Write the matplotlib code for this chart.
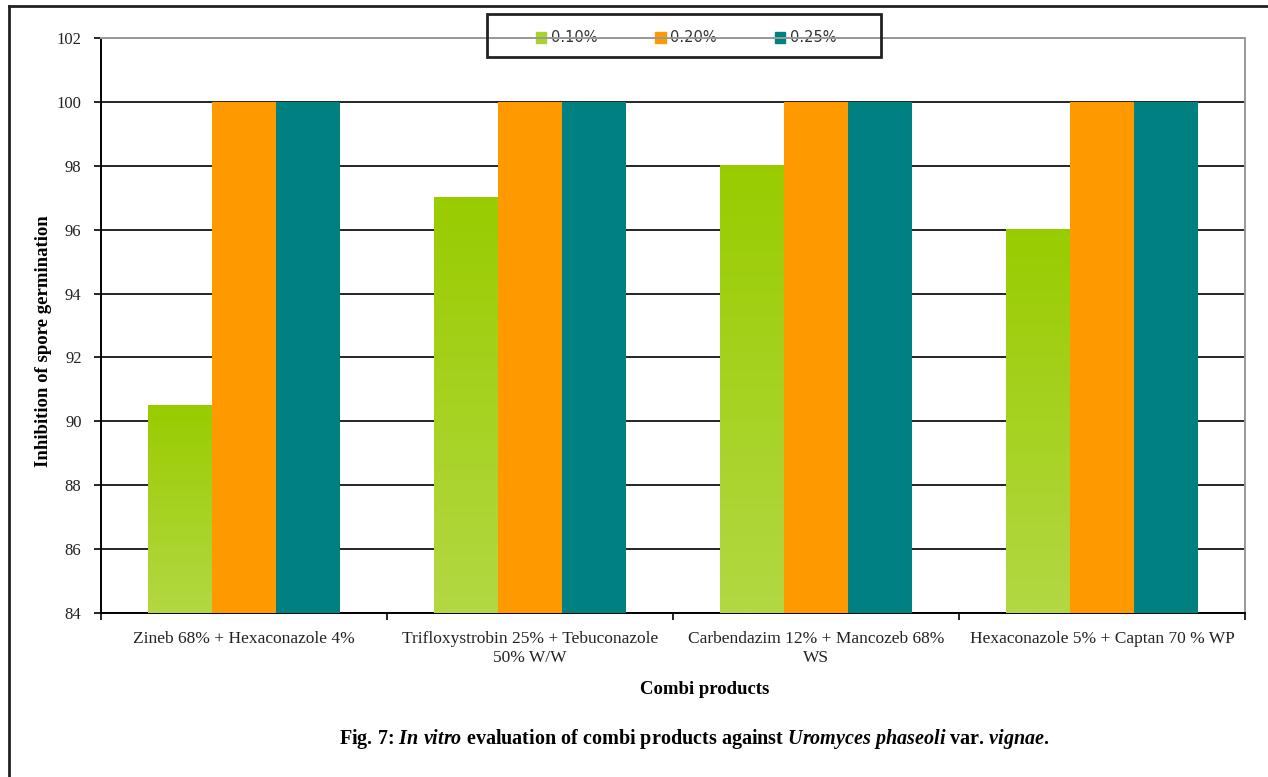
import matplotlib.pyplot as plt
import numpy as np
from matplotlib.colors import LinearSegmentedColormap
from matplotlib.lines import Line2D
from matplotlib.patches import Patch, Rectangle

products = ["Zineb 68% + Hexaconazole 4%",
            "Trifloxystrobin 25% + Tebuconazole\n50% W/W",
            "Carbendazim 12% + Mancozeb 68%\nWS",
            "Hexaconazole 5% + Captan 70 % WP"]
conc_labels = ["0.10%", "0.20%", "0.25%"]
inh_010 = [90.5, 97, 98, 96]
inh_020 = [100, 100, 100, 100]
inh_025 = [100, 100, 100, 100]

plt.rcParams['font.family'] = ['Liberation Serif', 'DejaVu Serif']
plt.rcParams['mathtext.fontset'] = 'custom'
plt.rcParams['mathtext.rm'] = 'Liberation Serif:bold'
plt.rcParams['mathtext.it'] = 'Liberation Serif:italic:bold'
plt.rcParams['mathtext.bf'] = 'Liberation Serif:bold'

W, H = 1268, 777
fig = plt.figure(figsize=(W / 100, H / 100), dpi=100)
ax = fig.add_axes([101 / W, 1 - 613 / H, 1144 / W, 575 / H])

x = np.arange(len(products))
w = 0.224
ymin = 84
green_cmap = LinearSegmentedColormap.from_list("g", ["#B3D843", "#99CC00"])
grad = np.linspace(0, 1, 256).reshape(-1, 1)

# green bars get a vertical gradient, lighter at the base
for xi, v in zip(x, inh_010):
    ax.imshow(grad, cmap=green_cmap, origin='lower', aspect='auto',
              extent=(xi - 1.5 * w, xi - 0.5 * w, ymin, v), zorder=3)
ax.bar(x, inh_020, w, bottom=0, color="#FF9900", zorder=3)
ax.bar(x + w, inh_025, w, bottom=0, color="#008080", zorder=3)

ax.set_xlim(-0.5, len(products) - 0.5)
ax.set_ylim(84, 102)
ax.set_yticks(np.arange(84, 103, 2))
ax.tick_params(axis='y', direction='out', length=5, width=1.2, labelsize=12,
               labelcolor="#222222", pad=9)
ax.set_xticks(np.arange(-0.5, len(products), 1))
ax.set_xticklabels([])
ax.set_xticks(x, minor=True)
ax.set_xticklabels(products, minor=True, fontsize=12.5, color="#222222", linespacing=1.25)
ax.tick_params(axis='x', which='major', direction='out', length=5, width=1.2)
ax.tick_params(axis='x', which='minor', length=0, pad=13)

ax.yaxis.grid(True, color="black", linewidth=1.2, zorder=0)
ax.set_axisbelow(True)
for side in ("left", "bottom"):
    ax.spines[side].set_color("black")
    ax.spines[side].set_linewidth(1.4)
for side in ("top", "right"):
    ax.spines[side].set_color("#9a9a9a")
    ax.spines[side].set_linewidth(1.4)

fig.text(44 / W, 1 - 341 / H, "Inhibition of spore germination", rotation=90,
         ha='center', va='center', fontsize=13.5, fontweight='bold')

handles = [Patch(color="#A8D42A"), Patch(color="#FF9900"), Patch(color="#008080")]
leg = ax.legend(handles, conc_labels, loc='center', bbox_to_anchor=(686 / W, 1 - 38 / H),
                bbox_transform=fig.transFigure, ncol=3, frameon=False,
                handlelength=0.7, handleheight=0.7, handletextpad=0.3, columnspacing=4.0,
                prop={'family': 'DejaVu Sans', 'size': 10.5})
leg.set_zorder(1)
for t in leg.get_texts():
    t.set_color("#333333")
fig.add_artist(Rectangle((487 / W, 1 - 57 / H), 394 / W, 43 / H, fill=False,
                         edgecolor="#222222", linewidth=2, transform=fig.transFigure))

fig.text(705 / W, 1 - 690 / H, "Combi products", ha='center', va='center',
         fontsize=13.5, fontweight='bold')
fig.text(694 / W, 1 - 739 / H,
         r"Fig. 7: $\mathit{In\ vitro}$ evaluation of combi products against "
         r"$\mathit{Uromyces\ phaseoli}$ var. $\mathit{vignae.}$",
         ha='center', va='center', fontsize=14.5, fontweight='bold')

# outer frame: top and left edges
fig.add_artist(Line2D([9 / W, 1], [1 - 6 / H, 1 - 6 / H], color="#222222", lw=2,
                      transform=fig.transFigure))
fig.add_artist(Line2D([9 / W, 9 / W], [0, 1 - 6 / H], color="#222222", lw=2,
                      transform=fig.transFigure))

fig.savefig("out.png", dpi=100)
